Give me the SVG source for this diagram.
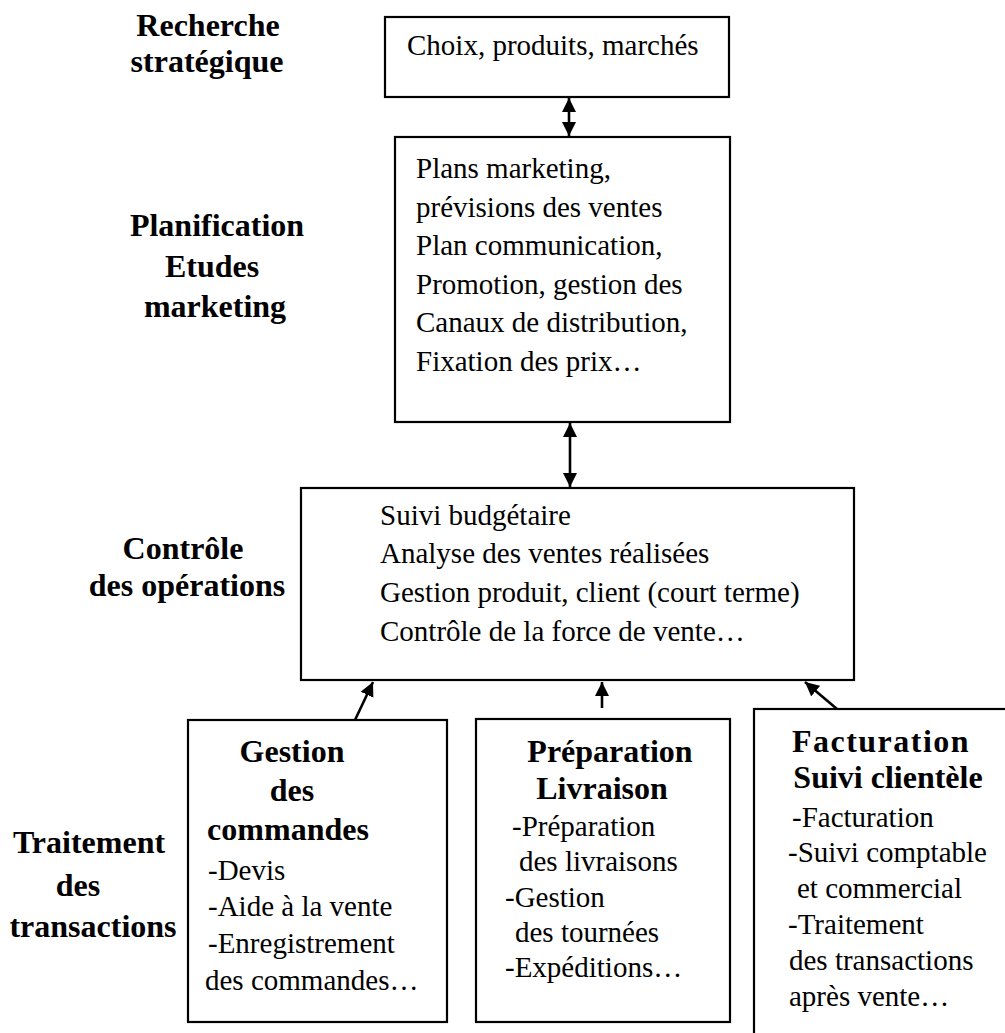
<svg xmlns="http://www.w3.org/2000/svg" width="1005" height="1033" viewBox="0 0 1005 1033">
<style>
.box{fill:#fff;stroke:#000;stroke-width:2.2}
.t{font-family:"Liberation Serif","Times New Roman",serif;font-size:29px;fill:#000}
.b{font-family:"Liberation Serif","Times New Roman",serif;font-size:32px;font-weight:bold;fill:#000;text-anchor:middle}
.c{stroke:#000;stroke-width:2.6;fill:none}
</style>
<defs>
<marker id="ah" markerUnits="userSpaceOnUse" markerWidth="15" markerHeight="15" refX="14" refY="7" orient="auto-start-reverse" viewBox="0 0 15 14">
<path d="M0,0 L14,7 L0,14 z" fill="#000"/>
</marker>
</defs>
<rect width="1005" height="1033" fill="#fff"/>

<g id="labels">
<text class="b" x="208" y="36">Recherche</text>
<text class="b" x="207" y="72">stratégique</text>
<text class="b" x="217" y="236">Planification</text>
<text class="b" x="212" y="277">Etudes</text>
<text class="b" x="215" y="317">marketing</text>
<text class="b" x="183" y="559">Contrôle</text>
<text class="b" x="187" y="596">des opérations</text>
<text class="b" x="89" y="853">Traitement</text>
<text class="b" x="78" y="896">des</text>
<text class="b" x="93" y="937">transactions</text>
</g>

<g id="n-choix">
<rect class="box" x="385" y="17" width="344" height="80"/>
<text class="t" x="407" y="55">Choix, produits, marchés</text>
</g>

<g id="n-plans">
<rect class="box" x="395" y="137" width="335" height="285"/>
<text class="t" x="416" y="178">Plans marketing,</text>
<text class="t" x="416" y="217">prévisions des ventes</text>
<text class="t" x="416" y="255">Plan communication,</text>
<text class="t" x="416" y="294">Promotion, gestion des</text>
<text class="t" x="416" y="332">Canaux de distribution,</text>
<text class="t" x="416" y="371">Fixation des prix…</text>
</g>

<g id="n-controle">
<rect class="box" x="301" y="488" width="553" height="192"/>
<text class="t" x="380" y="525">Suivi budgétaire</text>
<text class="t" x="380" y="563">Analyse des ventes réalisées</text>
<text class="t" x="380" y="602">Gestion produit, client (court terme)</text>
<text class="t" x="380" y="641">Contrôle de la force de vente…</text>
</g>

<g id="n-gestion">
<rect class="box" x="188" y="720" width="259" height="302"/>
<text class="b" x="292" y="762">Gestion</text>
<text class="b" x="292" y="801">des</text>
<text class="b" x="288" y="840">commandes</text>
<text class="t" x="208" y="880">-Devis</text>
<text class="t" x="208" y="916">-Aide à la vente</text>
<text class="t" x="208" y="953">-Enregistrement</text>
<text class="t" x="205" y="990">des commandes…</text>
</g>

<g id="n-preparation">
<rect class="box" x="476" y="719" width="254" height="303"/>
<text class="b" x="610" y="762">Préparation</text>
<text class="b" x="602" y="799">Livraison</text>
<text class="t" x="512" y="836">-Préparation</text>
<text class="t" x="519" y="871">des livraisons</text>
<text class="t" x="505" y="907">-Gestion</text>
<text class="t" x="515" y="942">des tournées</text>
<text class="t" x="505" y="977">-Expéditions…</text>
</g>

<g id="n-facturation">
<rect class="box" x="754" y="709" width="300" height="400"/>
<text class="b" x="881" y="752" letter-spacing="1.5">Facturation</text>
<text class="b" x="888" y="788">Suivi clientèle</text>
<text class="t" x="792" y="827">-Facturation</text>
<text class="t" x="788" y="862">-Suivi comptable</text>
<text class="t" x="797" y="898">et commercial</text>
<text class="t" x="788" y="934">-Traitement</text>
<text class="t" x="789" y="970">des transactions</text>
<text class="t" x="789" y="1006">après vente…</text>
</g>

<g id="connectors">
<line class="c" x1="569" y1="98" x2="569" y2="136" marker-start="url(#ah)" marker-end="url(#ah)"/>
<line class="c" x1="570" y1="423" x2="570" y2="487" marker-start="url(#ah)" marker-end="url(#ah)"/>
<line class="c" x1="355" y1="720" x2="373" y2="682" marker-end="url(#ah)"/>
<line class="c" x1="602" y1="708" x2="602" y2="682" marker-end="url(#ah)"/>
<line class="c" x1="837" y1="709" x2="805" y2="682" marker-end="url(#ah)"/>
</g>
</svg>
